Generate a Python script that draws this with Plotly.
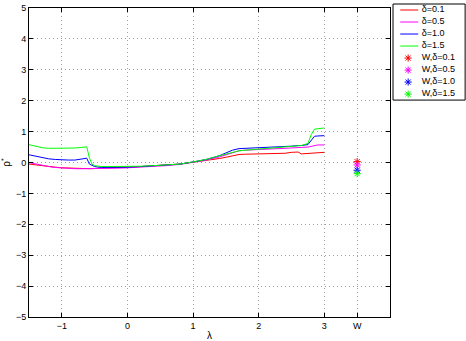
import plotly.graph_objects as go

lam = [-1.5, -1.4, -1.3, -1.2, -1.1, -1.0, -0.9, -0.8, -0.7, -0.62, -0.58, -0.54,
       -0.5, -0.4, -0.3, -0.2, -0.1, 0.0, 0.2, 0.4, 0.6, 0.8, 1.0, 1.2, 1.4, 1.5,
       1.6, 1.7, 1.8, 2.0, 2.2, 2.4, 2.5, 2.6, 2.65, 2.75, 2.8, 2.85, 2.9, 3.0]

rho_01 = [-0.05, -0.08, -0.11, -0.13, -0.15, -0.17, -0.18, -0.2, -0.2, -0.2, -0.2, -0.2,
          -0.19, -0.18, -0.17, -0.17, -0.16, -0.15, -0.13, -0.11, -0.08, -0.05, 0.01, 0.06, 0.13, 0.17,
          0.22, 0.26, 0.27, 0.28, 0.28, 0.3, 0.33, 0.34, 0.28, 0.3, 0.31, 0.32, 0.33, 0.33]
rho_05 = [0.0, -0.05, -0.1, -0.13, -0.16, -0.18, -0.2, -0.2, -0.2, -0.2, -0.2, -0.2,
          -0.2, -0.2, -0.2, -0.19, -0.18, -0.17, -0.15, -0.12, -0.1, -0.06, 0.01, 0.08, 0.18, 0.24,
          0.32, 0.38, 0.4, 0.43, 0.44, 0.46, 0.48, 0.49, 0.49, 0.5, 0.52, 0.55, 0.57, 0.57]
rho_10 = [0.25, 0.2, 0.15, 0.12, 0.1, 0.08, 0.08, 0.08, 0.1, 0.14, -0.05, -0.1,
          -0.13, -0.16, -0.16, -0.16, -0.15, -0.15, -0.13, -0.11, -0.08, -0.05, 0.02, 0.1, 0.22, 0.3,
          0.4, 0.45, 0.46, 0.47, 0.48, 0.5, 0.53, 0.55, 0.55, 0.58, 0.7, 0.85, 0.86, 0.87]
rho_15 = [0.58, 0.52, 0.48, 0.46, 0.46, 0.46, 0.46, 0.47, 0.49, 0.51, 0.15, -0.05,
          -0.1, -0.13, -0.13, -0.13, -0.13, -0.13, -0.12, -0.1, -0.08, -0.05, 0.02, 0.1, 0.22, 0.28,
          0.34, 0.38, 0.4, 0.44, 0.46, 0.5, 0.53, 0.55, 0.55, 0.62, 0.9, 1.08, 1.1, 1.12]

w_pos = 3.5
w_rho = [0.03, -0.08, -0.25, -0.36]

deltas = ["0.1", "0.5", "1.0", "1.5"]
colors = ["#ff0000", "#ff00ff", "#0000ff", "#00ff00"]

x_ticks = [-1, 0, 1, 2, 3, w_pos]
x_labels = ["\u22121", "0", "1", "2", "3", "W"]

star = dict(symbol="asterisk-open", size=6)

fig = go.Figure()
for d, c, ys in zip(deltas, colors, [rho_01, rho_05, rho_10, rho_15]):
    fig.add_trace(go.Scatter(x=lam, y=ys, mode="lines",
                             line=dict(color=c, width=1), name=f"\u03b4={d}"))
for d, c, yw in zip(deltas, colors, w_rho):
    fig.add_trace(go.Scatter(x=[w_pos], y=[yw], mode="markers",
                             marker=dict(color=c, line=dict(color=c, width=1), **star),
                             name=f"W,\u03b4={d}"))

# hand-drawn legend box on its own hidden axes (matlab style, compact rows)
names = [f"\u03b4={d}" for d in deltas] + [f"W,\u03b4={d}" for d in deltas]
rows = [7.5 - i for i in range(8)]
for i, c in enumerate(colors):
    fig.add_trace(go.Scatter(x=[0.1, 0.35], y=[rows[i], rows[i]], mode="lines",
                             line=dict(color=c, width=1), xaxis="x2", yaxis="y2",
                             showlegend=False, hoverinfo="skip"))
    fig.add_trace(go.Scatter(x=[0.21], y=[rows[i + 4]], mode="markers", cliponaxis=False,
                             marker=dict(color=c, line=dict(color=c, width=1), **star),
                             xaxis="x2", yaxis="y2", showlegend=False, hoverinfo="skip"))
fig.add_trace(go.Scatter(x=[0.4] * 8, y=rows, mode="text", text=names, cliponaxis=False,
                         textposition="middle right", textfont=dict(size=9, color="black"),
                         xaxis="x2", yaxis="y2", showlegend=False, hoverinfo="skip"))
fig.add_shape(type="rect", xref="x2 domain", yref="y2 domain", x0=0, x1=1, y0=0, y1=1,
              line=dict(color="black", width=1), fillcolor="rgba(0,0,0,0)")

axis_common = dict(showline=True, linecolor="black", linewidth=1, mirror="allticks",
                   ticks="inside", ticklen=4, tickcolor="black",
                   showgrid=True, gridcolor="#a0a0a0", griddash="1px,3px", gridwidth=1,
                   zeroline=False, tickfont=dict(size=9, color="black"))

fig.update_layout(
    width=466, height=341,
    margin=dict(l=29, r=0, t=4, b=24),
    paper_bgcolor="white", plot_bgcolor="white",
    font=dict(family="Liberation Sans, Arial, sans-serif", size=9, color="black"),
    showlegend=False,
    xaxis=dict(domain=[0, 0.826], range=[-1.5, 4], tickvals=x_ticks, ticktext=x_labels,
               title=dict(text="\u03bb", font=dict(size=10), standoff=2), **axis_common),
    yaxis=dict(domain=[0, 0.987], range=[-5, 5], dtick=1,
               title=dict(text="\u03c1<sup>*</sup>", font=dict(size=10), standoff=6),
               **axis_common),
    xaxis2=dict(domain=[0.833, 0.998], range=[0, 1], visible=False, fixedrange=True,
                anchor="y2"),
    yaxis2=dict(domain=[0.693, 1.0], range=[0, 8], visible=False, fixedrange=True,
                anchor="x2"),
)

# the page body has a default 8px margin; drop it so the figure sits at the corner
fig.write_html("out.html", config={"displayModeBar": False},
               post_script="document.body.style.margin='0';")
